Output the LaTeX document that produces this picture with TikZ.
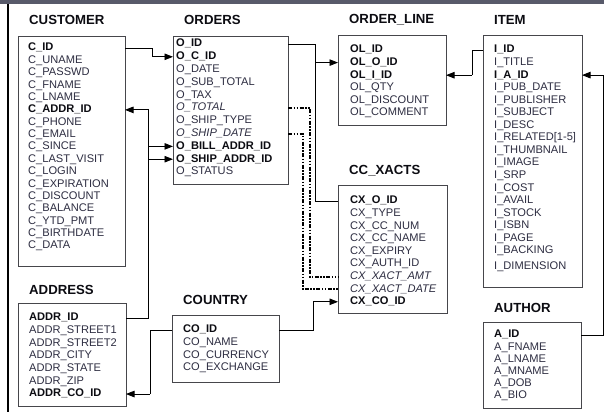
\documentclass[tikz,border=0pt]{standalone}
\usepackage{fontspec}
\setmainfont{Liberation Sans}
\usetikzlibrary{arrows.meta}
\definecolor{fldcol}{RGB}{45,45,65}
\definecolor{keycol}{RGB}{12,12,18}
\definecolor{boxcol}{RGB}{70,70,75}
\definecolor{bandcol}{RGB}{88,90,106}
\newcommand\tablefields[5]{%
  \foreach \t [count=\i] in {#5} {\node[fld] (#1-\i) at ({#2},{#3+#4*(\i-1)}) {\t};}}
\begin{document}
\begin{tikzpicture}[x=1pt,y=-1pt,
  tbl/.style={draw=boxcol,line width=0.9pt,anchor=north west,inner sep=0,outer sep=0},
  ttl/.style={anchor=west,inner sep=0,font=\bfseries\fontsize{13.2}{15}\selectfont,text=keycol},
  fld/.style={anchor=west,inner sep=0,text height=7.8pt,text depth=2pt,font=\fontsize{11.1}{12}\selectfont,text=fldcol},
  conn/.style={draw=black,line width=0.9pt},
  tip/.style={conn,-{Triangle[length=8.5pt,width=6.5pt]}},
  dd/.style={draw=black,line width=1.9pt,dash pattern=on 4pt off 1.5pt on 1.5pt off 1.5pt on 1.5pt off 1.5pt}]
\useasboundingbox (0,0) rectangle (604,412);
\fill[white] (0,0) rectangle (604,412);
\fill[bandcol] (0,0) rectangle (604,4);
\fill[black] (7,4) rectangle (9,412);

% boxes
\node[tbl,minimum width=107pt,minimum height=230pt] (customer) at (18,36) {};
\node[tbl,minimum width=115pt,minimum height=148pt] (orders) at (173,36) {};
\node[tbl,minimum width=108pt,minimum height=90pt] (orderline) at (338,35) {};
\node[tbl,minimum width=99pt,minimum height=252pt] (item) at (483,35) {};
\node[tbl,minimum width=109pt,minimum height=128pt] (cxacts) at (338,185) {};
\node[tbl,minimum width=108pt,minimum height=103pt] (address) at (18,303) {};
\node[tbl,minimum width=107pt,minimum height=67pt] (country) at (172,315) {};
\node[tbl,minimum width=98pt,minimum height=86pt] (author) at (483,322) {};

% titles
\node[ttl] (tcust) at (29,20) {CUSTOMER};
\node[ttl] (tord) at (184,20) {ORDERS};
\node[ttl] (tol) at (349,20) {ORDER\_LINE};
\node[ttl] (titem) at (494,20) {ITEM};
\node[ttl] (tcx) at (349,171) {CC\_XACTS};
\node[ttl] (taddr) at (29,290) {ADDRESS};
\node[ttl] (tco) at (183,300) {COUNTRY};
\node[ttl] (tau) at (494,308) {AUTHOR};

% fields
\tablefields{cu}{28}{48}{12.375}{{\bfseries\color{keycol}C\_ID},C\_UNAME,C\_PASSWD,C\_FNAME,C\_LNAME,{\bfseries\color{keycol}C\_ADDR\_ID},C\_PHONE,C\_EMAIL,C\_SINCE,C\_LAST\_VISIT,C\_LOGIN,C\_EXPIRATION,C\_DISCOUNT,C\_BALANCE,C\_YTD\_PMT,C\_BIRTHDATE,C\_DATA}
\tablefields{or}{176}{44}{12.8}{{\bfseries\color{keycol}O\_ID},{\bfseries\color{keycol}O\_C\_ID},O\_DATE,O\_SUB\_TOTAL,O\_TAX,{\itshape O\_TOTAL},O\_SHIP\_TYPE,{\itshape O\_SHIP\_DATE},{\bfseries\color{keycol}O\_BILL\_ADDR\_ID},{\bfseries\color{keycol}O\_SHIP\_ADDR\_ID},O\_STATUS}
\tablefields{ol}{350}{50}{12.6}{{\bfseries\color{keycol}OL\_ID},{\bfseries\color{keycol}OL\_O\_ID},{\bfseries\color{keycol}OL\_I\_ID},OL\_QTY,OL\_DISCOUNT,OL\_COMMENT}
\tablefields{it}{494}{50}{12.56}{{\bfseries\color{keycol}I\_ID},I\_TITLE,{\bfseries\color{keycol}I\_A\_ID},I\_PUB\_DATE,I\_PUBLISHER,I\_SUBJECT,I\_DESC,I\_RELATED[1-5],I\_THUMBNAIL,I\_IMAGE,I\_SRP,I\_COST,I\_AVAIL,I\_STOCK,I\_ISBN,I\_PAGE,I\_BACKING}
\node[fld] (it-18) at (494,267) {I\_DIMENSION};
\tablefields{cx}{350}{201}{12.6}{{\bfseries\color{keycol}CX\_O\_ID},CX\_TYPE,CX\_CC\_NUM,CX\_CC\_NAME,CX\_EXPIRY,CX\_AUTH\_ID,{\itshape CX\_XACT\_AMT},{\itshape CX\_XACT\_DATE},{\bfseries\color{keycol}CX\_CO\_ID}}
\tablefields{ad}{29}{318}{12.67}{{\bfseries\color{keycol}ADDR\_ID},ADDR\_STREET1,ADDR\_STREET2,ADDR\_CITY,ADDR\_STATE,ADDR\_ZIP,{\bfseries\color{keycol}ADDR\_CO\_ID}}
\tablefields{co}{183}{330}{12.67}{{\bfseries\color{keycol}CO\_ID},CO\_NAME,CO\_CURRENCY,CO\_EXCHANGE}
\tablefields{au}{494}{335}{12.2}{{\bfseries\color{keycol}A\_ID},A\_FNAME,A\_LNAME,A\_MNAME,A\_DOB,A\_BIO}

% bus coordinates
\coordinate (bcu) at (152,0);
\coordinate (bad) at (148,0);
\coordinate (bor) at (315,0);
\coordinate (bd1) at (310,0);
\coordinate (bd2) at (303,0);
\coordinate (bco) at (313,0);
\coordinate (bco2) at (150,0);
\coordinate (bit) at (472,0);
\coordinate (bau) at (603,0);

% connectors
\draw[tip] (customer.east |- cu-1) -| (bcu |- or-2) -- (orders.west |- or-2);
\draw[tip] (address.east |- ad-1) -| (bad |- cu-6) -- (customer.east |- cu-6);
\draw[tip] (bad |- or-9) -- (orders.west |- or-9);
\draw[tip] (bad |- or-10) -- (orders.west |- or-10);
\draw[conn] (orders.east |- or-1) -| (bor |- cx-1) -- (cxacts.west |- cx-1);
\draw[tip] (bor |- ol-2) -- (orderline.west |- ol-2);
\draw[dd] (orders.east |- or-6) -| (bd1 |- cx-7) -- (cxacts.west |- cx-7);
\draw[dd] (orders.east |- or-8) -| (bd2 |- cx-8) -- (cxacts.west |- cx-8);
\draw[conn] (country.east |- co-1) -| (bco |- cx-9);
\draw[tip] (bco |- cx-9) -- (cxacts.west |- cx-9);
\draw[conn] (country.west |- co-1) -| (bco2 |- ad-7);
\draw[tip] (bco2 |- ad-7) -- (address.east |- ad-7);
\draw[conn] (item.west |- it-1) -| (bit |- ol-3);
\draw[tip] (bit |- ol-3) -- (orderline.east |- ol-3);
\draw[conn] (author.east |- au-1) -| (bau |- it-3);
\draw[tip] (bau |- it-3) -- (item.east |- it-3);
\end{tikzpicture}
\end{document}
